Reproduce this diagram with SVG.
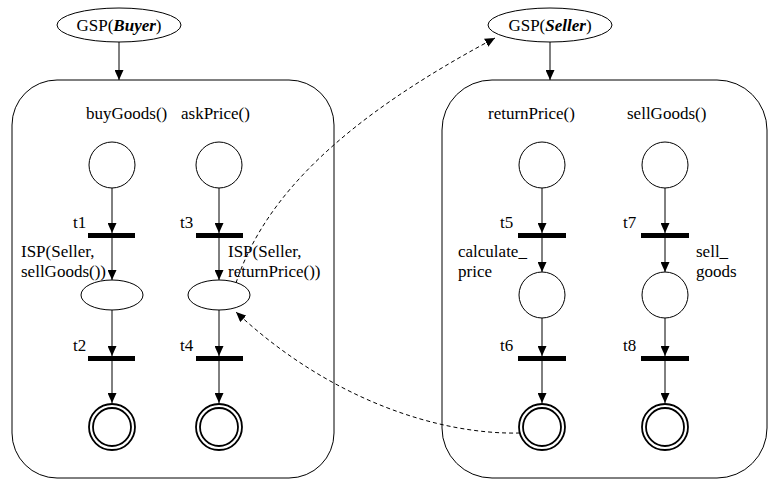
<svg xmlns="http://www.w3.org/2000/svg" width="769" height="481" viewBox="0 0 769 481">
<style>
text{font-family:"Liberation Serif","Times New Roman",serif;font-size:17px;fill:#000}
.b{font-weight:bold;font-style:italic}
.ln{fill:none;stroke:#000;stroke-width:1}
.ar{marker-end:url(#ah)}
.da{fill:none;stroke:#000;stroke-width:1;stroke-dasharray:4,3;marker-end:url(#ah)}
.pl{fill:#fff;stroke:#000;stroke-width:1}
.fin{fill:#fff;stroke:#000;stroke-width:1.8}
.bar{fill:#000}
.box{fill:#fff;stroke:#000;stroke-width:1}
</style>
<defs>
<marker id="ah" markerUnits="userSpaceOnUse" markerWidth="10" markerHeight="9" refX="10" refY="4.5" orient="auto">
<path d="M0,0 L10,4.5 L0,9 z" fill="#000"/>
</marker>
</defs>

<g id="buyer-box"><rect class="box" x="12" y="80" width="322" height="398" rx="45" ry="45"/></g>
<g id="seller-box"><rect class="box" x="442" y="80" width="325" height="398" rx="50" ry="50"/></g>

<g id="gsp-buyer"><ellipse class="pl" cx="119" cy="25" rx="62" ry="17"/><text x="119" y="31" text-anchor="middle">GSP(<tspan class="b">Buyer</tspan>)</text></g>
<g id="gsp-seller"><ellipse class="pl" cx="550" cy="25" rx="62" ry="17"/><text x="550" y="31" text-anchor="middle">GSP(<tspan class="b">Seller</tspan>)</text></g>

<g id="labels-top">
<text x="86" y="119">buyGoods()</text>
<text x="181" y="119">askPrice()</text>
<text x="488" y="119">returnPrice()</text>
<text x="627" y="119">sellGoods()</text>
</g>

<g id="p1"><circle class="pl" cx="112" cy="165" r="23"/></g>
<g id="p2"><circle class="pl" cx="219" cy="165" r="23"/></g>
<g id="p3"><circle class="pl" cx="542" cy="165" r="23"/></g>
<g id="p4"><circle class="pl" cx="665" cy="165" r="23"/></g>

<g id="t1"><rect class="bar" x="88" y="233" width="47" height="5"/><text x="73" y="228">t1</text></g>
<g id="t3"><rect class="bar" x="196" y="233" width="47" height="5"/><text x="180" y="228">t3</text></g>
<g id="t5"><rect class="bar" x="518" y="233" width="48" height="5"/><text x="500" y="228">t5</text></g>
<g id="t7"><rect class="bar" x="641" y="233" width="48" height="5"/><text x="623" y="228">t7</text></g>

<g id="isp1"><ellipse class="pl" cx="112" cy="295" rx="31" ry="15"/><text x="21" y="257">ISP(Seller,</text><text x="21" y="277">sellGoods())</text></g>
<g id="isp2"><ellipse class="pl" cx="219" cy="295" rx="31" ry="15"/><text x="228" y="257">ISP(Seller,</text><text x="228" y="277">returnPrice())</text></g>
<g id="calc"><circle class="pl" cx="542" cy="295" r="23"/><text x="458" y="257">calculate_</text><text x="458" y="277">price</text></g>
<g id="sell"><circle class="pl" cx="665" cy="295" r="23"/><text x="696" y="257">sell_</text><text x="696" y="277">goods</text></g>

<g id="t2"><rect class="bar" x="88" y="356" width="47" height="5"/><text x="73" y="351">t2</text></g>
<g id="t4"><rect class="bar" x="196" y="356" width="47" height="5"/><text x="180" y="351">t4</text></g>
<g id="t6"><rect class="bar" x="518" y="356" width="48" height="5"/><text x="500" y="351">t6</text></g>
<g id="t8"><rect class="bar" x="641" y="356" width="48" height="5"/><text x="623" y="351">t8</text></g>

<g id="f1"><circle class="fin" cx="112" cy="427" r="23"/><circle class="fin" cx="112" cy="427" r="19"/></g>
<g id="f2"><circle class="fin" cx="219" cy="427" r="23"/><circle class="fin" cx="219" cy="427" r="19"/></g>
<g id="f3"><circle class="fin" cx="542" cy="427" r="23"/><circle class="fin" cx="542" cy="427" r="19"/></g>
<g id="f4"><circle class="fin" cx="665" cy="427" r="23"/><circle class="fin" cx="665" cy="427" r="19"/></g>

<g id="connectors">
<line class="ln ar" x1="119" y1="42" x2="119" y2="80"/>
<line class="ln ar" x1="550" y1="42" x2="550" y2="80"/>

<line class="ln ar" x1="112" y1="188" x2="112" y2="233"/>
<line class="ln ar" x1="112" y1="238" x2="112" y2="280"/>
<line class="ln ar" x1="112" y1="310" x2="112" y2="356"/>
<line class="ln ar" x1="112" y1="361" x2="112" y2="403"/>

<line class="ln ar" x1="219" y1="188" x2="219" y2="233"/>
<line class="ln ar" x1="219" y1="238" x2="219" y2="280"/>
<line class="ln ar" x1="219" y1="310" x2="219" y2="356"/>
<line class="ln ar" x1="219" y1="361" x2="219" y2="403"/>

<line class="ln ar" x1="542" y1="188" x2="542" y2="233"/>
<line class="ln ar" x1="542" y1="238" x2="542" y2="272"/>
<line class="ln ar" x1="542" y1="318" x2="542" y2="356"/>
<line class="ln ar" x1="542" y1="361" x2="542" y2="403"/>

<line class="ln ar" x1="665" y1="188" x2="665" y2="233"/>
<line class="ln ar" x1="665" y1="238" x2="665" y2="272"/>
<line class="ln ar" x1="665" y1="318" x2="665" y2="356"/>
<line class="ln ar" x1="665" y1="361" x2="665" y2="403"/>

<path class="da" d="M236,283 C265,195 345,118 495,38"/>
<path class="da" d="M520,433 C440,435 330,400 236,312"/>
</g>
</svg>
